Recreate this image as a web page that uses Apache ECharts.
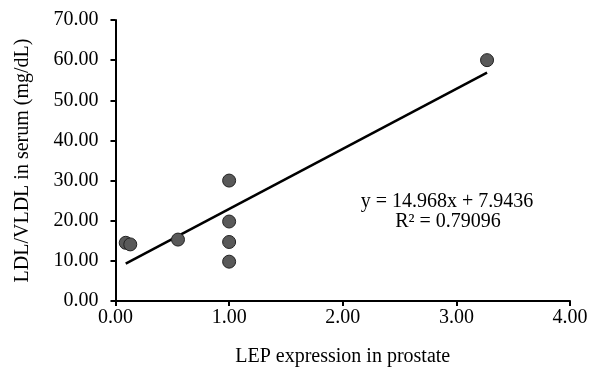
<!DOCTYPE html>
<html>
<head>
<meta charset="utf-8">
<script src="https://cdn.jsdelivr.net/npm/echarts@6/dist/echarts.min.js"></script>
<style>html,body{margin:0;padding:0;background:#fff}#c{width:592px;height:372px}</style>
</head>
<body>
<div id="c"></div>
<script>
const xValues = [0.09, 0.13, 0.55, 1.00, 1.00, 1.00, 1.00, 3.27];
const yValues = [14.5, 14.1, 15.3, 30.0, 19.8, 14.7, 9.8, 60.0];
const slope = 14.968;
const intercept = 7.9436;
const equationText = 'y = 14.968x + 7.9436';
const r2Text = 'R² = 0.79096';
const xTicks = ['0.00', '1.00', '2.00', '3.00', '4.00'];
const yTicks = ['0.00', '10.00', '20.00', '30.00', '40.00', '50.00', '60.00', '70.00'];

const pts = xValues.map((x, i) => [x, yValues[i]]);
const xMin = Math.min(...xValues), xMax = Math.max(...xValues);
const trend = [[xMin, slope * xMin + intercept], [xMax, slope * xMax + intercept]];

const font = 'Liberation Serif, Times New Roman, serif';
const fs = 20;
const chart = echarts.init(document.getElementById('c'));
chart.setOption({
  animation: false,
  grid: { left: 115.5, right: 22, top: 20, bottom: 66 },
  xAxis: {
    type: 'value', min: 0, max: 4, interval: 1,
    name: 'LEP expression in prostate', nameLocation: 'middle', nameGap: 46,
    nameTextStyle: { fontFamily: font, fontSize: fs, color: '#000' },
    axisLine: { lineStyle: { color: '#000', width: 2 } },
    axisTick: { show: true, length: 5, lineStyle: { color: '#000', width: 2 } },
    axisLabel: { fontFamily: font, fontSize: fs, color: '#000', margin: 7,
      formatter: v => xTicks[Math.round(v)] },
    splitLine: { show: false }
  },
  yAxis: {
    type: 'value', min: 0, max: 70, interval: 10,
    name: 'LDL/VLDL in serum (mg/dL)', nameLocation: 'middle', nameGap: 83,
    nameTextStyle: { fontFamily: font, fontSize: fs, color: '#000' },
    axisLine: { lineStyle: { color: '#000', width: 2 } },
    axisTick: { show: true, length: 5, lineStyle: { color: '#000', width: 2 } },
    axisLabel: { fontFamily: font, fontSize: fs, color: '#000', margin: 17,
      formatter: v => yTicks[Math.round(v / 10)] },
    splitLine: { show: false }
  },
  series: [
    {
      type: 'line', data: trend, symbol: 'none', z: 1,
      lineStyle: { color: '#000', width: 2.5 }
    },
    {
      type: 'scatter', data: pts, symbolSize: 13, z: 2,
      itemStyle: { color: '#595959', borderColor: '#222', borderWidth: 1, opacity: 1 }
    }
  ],
  graphic: [
    { type: 'text', x: 447, y: 201.5, style: { text: equationText, font: fs + 'px ' + font, fill: '#000', textAlign: 'center', textVerticalAlign: 'middle' } },
    { type: 'text', x: 448, y: 221.5, style: { text: r2Text, font: fs + 'px ' + font, fill: '#000', textAlign: 'center', textVerticalAlign: 'middle' } }
  ]
});
</script>
</body>
</html>
